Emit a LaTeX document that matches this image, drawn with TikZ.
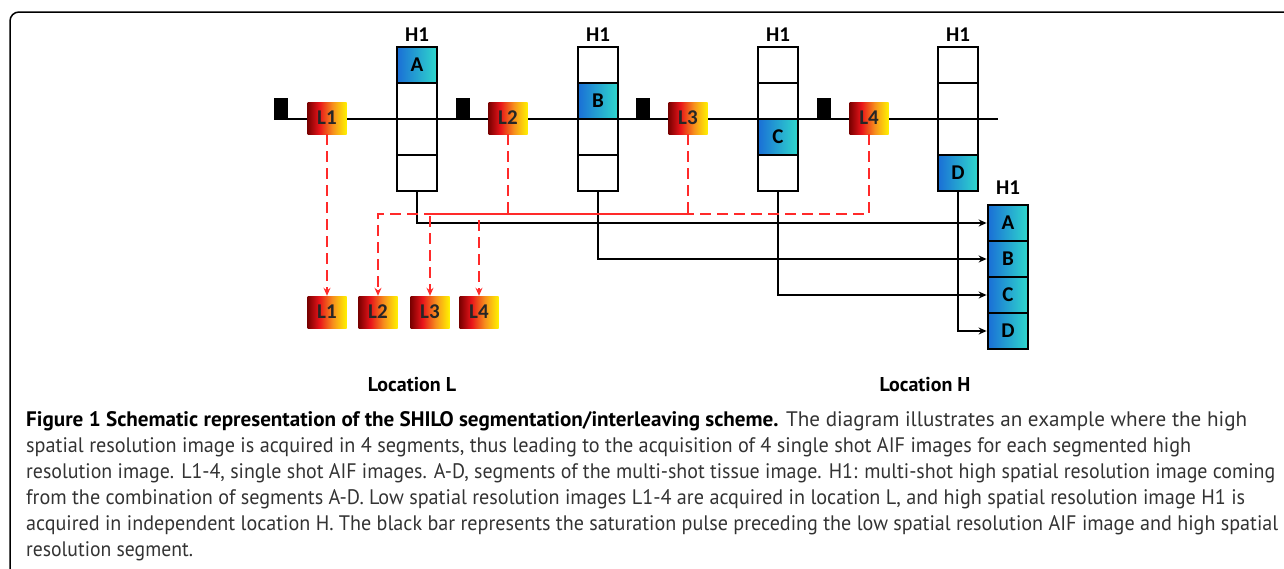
\documentclass[tikz,border=0pt]{standalone}
\usepackage{fontspec}
\setmainfont{PT Sans}
\newfontfamily\diagfont{Carlito}
\usetikzlibrary{arrows.meta}
\definecolor{lred}{HTML}{7A0000}
\definecolor{lrtwo}{HTML}{E8141A}
\definecolor{lor}{HTML}{F7941D}
\definecolor{lyel}{HTML}{FFF200}
\definecolor{bblue}{HTML}{1A6FD6}
\definecolor{bcyan}{HTML}{2FD8CC}
\definecolor{dred}{HTML}{FF2A2A}
\definecolor{captxt}{HTML}{333333}
\pgfdeclarehorizontalshading{lgrad}{100bp}{color(0bp)=(lred); color(25bp)=(lred); color(40bp)=(lrtwo); color(58bp)=(lor); color(75bp)=(lyel); color(100bp)=(lyel)}
\newcommand{\fitcapline}[2]{\resizebox{#1}{\height}{#2}}
\begin{document}
\begin{tikzpicture}[x=1pt,y=-1pt,
  dfont/.style={font=\diagfont\bfseries\fontsize{21}{21}\selectfont},
  cell/.style={draw, line width=2.8pt, minimum width=40pt, minimum height=36pt, inner sep=0pt, dfont, fill=white},
  bcell/.style={cell, left color=bblue, right color=bcyan},
  lbox/.style={minimum width=39pt, minimum height=32pt, inner sep=0pt, shading=lgrad, dfont, text=black!85},
  pulse/.style={fill=black, minimum width=14pt, minimum height=21pt, inner sep=0pt, anchor=south west},
  hlabel/.style={dfont},
  reddash/.style={draw=dred, line width=2.4pt, dash pattern=on 11pt off 6pt, -{Stealth[length=8pt,width=7pt]}},
  conn/.style={draw, line width=1.7pt, -{Stealth[length=8pt,width=7pt]}},
  loclabel/.style={font=\bfseries\fontsize{20}{20}\selectfont},
  capline/.style={anchor=west, inner sep=0pt, text=captxt, font=\fontsize{21}{21}\selectfont}
]
\clip (0,0) rectangle (1284,568);
% frame
\draw[line width=1.5pt, rounded corners=9pt] (10,620) -- (10,12) -- (1320,12);
% timeline
\coordinate (ts) at (274,119);
\coordinate (te) at (998,119);
\draw[line width=2.4pt] (ts) -- (te);
% saturation pulses
\node[pulse] (p1) at (274,119) {};
\node[pulse] (p2) at (456,119) {};
\node[pulse] (p3) at (636,119) {};
\node[pulse] (p4) at (817,119) {};
% low-res images on timeline
\node[lbox] (l1) at (327,118) {L1};
\node[lbox] (l2) at (508,118) {L2};
\node[lbox] (l3) at (688,118) {L3};
\node[lbox] (l4) at (869,118) {L4};
% H1 columns
\foreach \c/\x in {1/417,2/598,3/778,4/958}{
  \node[hlabel] (h\c) at (\x,35) {H1};
}
\node[bcell] (c1a) at (417,65) {A};
\node[cell]  (c1b) at (417,101) {};
\node[cell]  (c1c) at (417,137) {};
\node[cell]  (c1d) at (417,173) {};
\node[cell]  (c2a) at (598,65) {};
\node[bcell] (c2b) at (598,101) {B};
\node[cell]  (c2c) at (598,137) {};
\node[cell]  (c2d) at (598,173) {};
\node[cell]  (c3a) at (778,65) {};
\node[cell]  (c3b) at (778,101) {};
\node[bcell] (c3c) at (778,137) {C};
\node[cell]  (c3d) at (778,173) {};
\node[cell]  (c4a) at (958,65) {};
\node[cell]  (c4b) at (958,101) {};
\node[cell]  (c4c) at (958,137) {};
\node[bcell] (c4d) at (958,173) {D};
% combined H1
\node[hlabel] (hf) at (1008,188) {H1};
\node[bcell] (fa) at (1008,223) {A};
\node[bcell] (fb) at (1008,259) {B};
\node[bcell] (fc) at (1008,295) {C};
\node[bcell] (fd) at (1008,331) {D};
% bottom low-res images
\node[lbox] (b1) at (327,312) {L1};
\node[lbox] (b2) at (378,312) {L2};
\node[lbox] (b3) at (430,312) {L3};
\node[lbox] (b4) at (479,312) {L4};
% black connectors
\draw[conn] (c1d.south) |- (fa.west);
\draw[conn] (c2d.south) |- (fb.west);
\draw[conn] (c3d.south) |- (fc.west);
\draw[conn] (c4d.south) |- (fd.west);
% red dashed connectors
\coordinate (rl) at (0,214);
\draw[reddash] (l1.south) -- (b1.north);
\draw[reddash] (l2.south) -- (l2.south |- rl) -| (b2.north);
\draw[reddash] (l3.south) -- (l3.south |- rl) -| (b3.north);
\draw[reddash] (l4.south) -- (l4.south |- rl) -| (b4.north);
% location labels
\node[loclabel] (locl) at (412,385) {Location L};
\node[loclabel] (loch) at (925,385) {Location H};
% caption
\node[capline] (cap1) at (26,421) {\fitcapline{1221pt}{\textbf{\color{black}Figure 1 Schematic representation of the SHILO segmentation/interleaving scheme.} The diagram illustrates an example where the high}};
\node[capline] (cap2) at (26,447) {\fitcapline{1165pt}{spatial resolution image is acquired in 4 segments, thus leading to the acquisition of 4 single shot AIF images for each segmented high}};
\node[capline] (cap3) at (26,473) {\fitcapline{1249pt}{resolution image. L1-4, single shot AIF images. A-D, segments of the multi-shot tissue image. H1: multi-shot high spatial resolution image coming}};
\node[capline] (cap4) at (26,499) {\fitcapline{1219pt}{from the combination of segments A-D. Low spatial resolution images L1-4 are acquired in location L, and high spatial resolution image H1 is}};
\node[capline] (cap5) at (26,525) {\fitcapline{1252pt}{acquired in independent location H. The black bar represents the saturation pulse preceding the low spatial resolution AIF image and high spatial}};
\node[capline] (cap6) at (26,551) {\fitcapline{167pt}{resolution segment.}};
\end{tikzpicture}
\end{document}
